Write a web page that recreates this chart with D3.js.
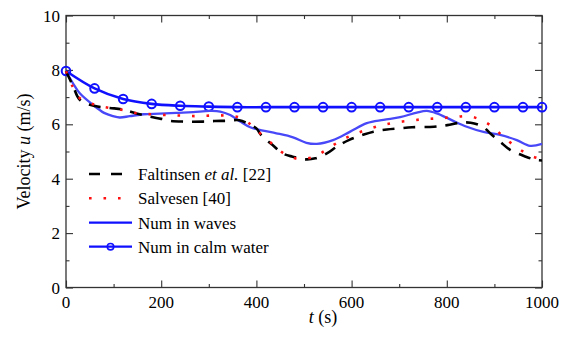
<!DOCTYPE html>
<html>
<head>
<meta charset="utf-8">
<script src="https://cdn.jsdelivr.net/npm/d3@7"></script>
</head>
<body style="margin:0">
<svg id="chart" width="574" height="337"></svg>
<script>
// Axis ticks
const xTicks = [0, 200, 400, 600, 800, 1000];
const yTicks = [0, 2, 4, 6, 8, 10];

// Faltinsen et al. [22]
const faltT = [0, 15, 29, 61, 92, 117, 148, 176, 200, 218, 246, 288, 312, 340, 364, 388, 400, 410, 434, 455, 476, 504, 524, 548, 569, 594, 622, 646, 674, 699, 727, 773, 801, 829, 850, 876, 891, 912, 933, 966, 987, 1000];
const faltU = [7.95, 7.4, 6.9, 6.67, 6.6, 6.55, 6.4, 6.28, 6.2, 6.13, 6.1, 6.1, 6.12, 6.13, 6.15, 5.97, 5.85, 5.6, 5.24, 4.93, 4.81, 4.71, 4.75, 4.93, 5.18, 5.42, 5.6, 5.73, 5.81, 5.85, 5.89, 5.91, 5.97, 6.06, 6.06, 5.91, 5.67, 5.36, 5.06, 4.81, 4.69, 4.67];

// Salvesen [40]
const salvT = [0, 14, 29, 59, 89, 119, 150, 180, 212, 242, 273, 304, 335, 366, 391, 413, 436, 460, 490, 521, 546, 573, 601, 630, 660, 689, 721, 752, 782, 814, 844, 872, 898, 920, 945, 973, 1000];
const salvU = [7.95, 7.38, 6.96, 6.73, 6.61, 6.53, 6.4, 6.37, 6.34, 6.32, 6.3, 6.32, 6.32, 6.24, 5.95, 5.58, 5.24, 4.9, 4.72, 4.81, 5.05, 5.36, 5.6, 5.79, 5.95, 6.06, 6.13, 6.19, 6.22, 6.26, 6.3, 6.16, 5.88, 5.52, 5.18, 4.87, 4.71];

// Num in waves
const wavesT = [0, 15, 29, 57, 80, 99, 113, 134, 163, 197, 232, 267, 302, 324, 345, 366, 387, 414, 442, 477, 505, 527, 561, 597, 632, 667, 702, 737, 758, 779, 807, 842, 877, 912, 947, 975, 1000];
const wavesU = [7.95, 7.5, 7.14, 6.71, 6.42, 6.3, 6.25, 6.3, 6.37, 6.39, 6.42, 6.45, 6.49, 6.47, 6.34, 6.1, 5.89, 5.77, 5.67, 5.52, 5.32, 5.28, 5.42, 5.73, 6.04, 6.16, 6.26, 6.43, 6.49, 6.4, 6.18, 5.91, 5.72, 5.61, 5.42, 5.21, 5.28];

// Num in calm water
const calmT = [0, 60, 120, 180, 240, 300, 360, 420, 480, 540, 600, 660, 720, 780, 840, 900, 960, 1000];
const calmU = [7.96, 7.32, 6.93, 6.75, 6.68, 6.65, 6.63, 6.63, 6.63, 6.63, 6.63, 6.63, 6.63, 6.63, 6.63, 6.63, 6.63, 6.63];

const FONT = "Liberation Serif";
const BASE = 22; // text is laid out at this size, then scaled to its final size
const svg = d3.select("#chart");
const margin = { left: 66, right: 32, top: 15.5, bottom: 49.5 };
const W = 574, H = 337;

const x = d3.scaleLinear().domain([0, 1000]).range([margin.left, W - margin.right]);
const y = d3.scaleLinear().domain([0, 10]).range([H - margin.bottom, margin.top]);

const axisColor = "#333";
const x0 = x.range()[0], x1 = x.range()[1];
const y0 = y.range()[0], y1 = y.range()[1];

// Text helper: parts are [string, italic?] pairs
function label(parent, px, py, size, anchor, parts, rotate = 0) {
  const g = parent.append("g")
    .attr("transform", `translate(${px},${py}) rotate(${rotate}) scale(${size / BASE})`);
  const t = g.append("text")
    .attr("x", 0).attr("y", 0)
    .attr("text-anchor", anchor)
    .attr("font-family", FONT).attr("font-size", BASE).attr("fill", "#000");
  parts.forEach(([s, it]) => {
    const sp = t.append("tspan").text(s);
    if (it) sp.attr("font-style", "italic");
  });
  return t;
}

// Inward ticks on all four sides (major and minor)
function tickSide(axisFn, scale, major, minor, transform) {
  const gMinor = svg.append("g").attr("transform", transform)
    .call(axisFn(scale).tickValues(minor).tickSize(-3.5).tickFormat(""));
  const gMajor = svg.append("g").attr("transform", transform)
    .call(axisFn(scale).tickValues(major).tickSize(-7).tickFormat(""));
  [gMinor, gMajor].forEach(g => {
    g.select(".domain").remove();
    g.selectAll("line").attr("stroke", axisColor).attr("stroke-width", 1.1);
  });
}
const xMinor = d3.range(100, 1000, 200);
const yMinor = d3.range(1, 10, 2);
tickSide(d3.axisBottom, x, xTicks, xMinor, `translate(0,${y0})`);
tickSide(d3.axisTop, x, xTicks, xMinor, `translate(0,${y1})`);
tickSide(d3.axisLeft, y, yTicks, yMinor, `translate(${x0},0)`);
tickSide(d3.axisRight, y, yTicks, yMinor, `translate(${x1},0)`);

// Frame
svg.append("rect")
  .attr("x", x0).attr("y", y1)
  .attr("width", x1 - x0).attr("height", y0 - y1)
  .attr("fill", "none").attr("stroke", axisColor).attr("stroke-width", 1.3);

// Tick labels
const tickLabels = svg.append("g");
xTicks.forEach(d => label(tickLabels, x(d), y0 + 20, 17, "middle", [[String(d), false]]));
yTicks.forEach(d => label(tickLabels, x0 - 6, y(d) + 6, 17, "end", [[String(d), false]]));

// Axis titles
label(svg, x(540), 323, 18, "middle", [["t", true], [" (s)", false]]);
label(svg, 30, (y0 + y1) / 2, 18, "middle", [["Velocity ", false], ["u", true], [" (m/s)", false]], -90);

const line = d3.line().x(d => x(d[0])).y(d => y(d[1])).curve(d3.curveCatmullRom.alpha(0.5));
const zip = (a, b) => a.map((v, i) => [v, b[i]]);

const plot = svg.append("g");

// Num in calm water
plot.append("path").datum(zip(calmT, calmU))
  .attr("d", line).attr("fill", "none")
  .attr("stroke", "#1010ff").attr("stroke-width", 2.6);
plot.append("g").selectAll("circle").data(zip(calmT, calmU)).join("circle")
  .attr("cx", d => x(d[0])).attr("cy", d => y(d[1])).attr("r", 4.3)
  .attr("fill", "none").attr("stroke", "#1010ff").attr("stroke-width", 2);

// Num in waves
plot.append("path").datum(zip(wavesT, wavesU))
  .attr("d", line).attr("fill", "none")
  .attr("stroke", "#4848f8").attr("stroke-width", 2.3);

// Faltinsen et al.
plot.append("path").datum(zip(faltT, faltU))
  .attr("d", line).attr("fill", "none")
  .attr("stroke", "#000").attr("stroke-width", 2.6)
  .attr("stroke-dasharray", "12 9");

// Salvesen
plot.append("path").datum(zip(salvT, salvU))
  .attr("d", line).attr("fill", "none")
  .attr("stroke", "#ff1010").attr("stroke-width", 2.6)
  .attr("stroke-dasharray", "2.6 11.9");

// Legend
const legend = svg.append("g");
const lx0 = 89, lx1 = 132, tx = 138;
const rows = [174, 198.3, 222.7, 246.7];

legend.append("line").attr("x1", lx0).attr("x2", lx1).attr("y1", rows[0]).attr("y2", rows[0])
  .attr("stroke", "#000").attr("stroke-width", 2.6).attr("stroke-dasharray", "11 11");
legend.append("line").attr("x1", lx0).attr("x2", lx1).attr("y1", rows[1]).attr("y2", rows[1])
  .attr("stroke", "#ff1010").attr("stroke-width", 2.6).attr("stroke-dasharray", "2.6 11.9");
legend.append("line").attr("x1", lx0).attr("x2", lx1).attr("y1", rows[2]).attr("y2", rows[2])
  .attr("stroke", "#1010ff").attr("stroke-width", 2.2);
legend.append("line").attr("x1", lx0).attr("x2", lx1).attr("y1", rows[3]).attr("y2", rows[3])
  .attr("stroke", "#1010ff").attr("stroke-width", 2.2);
legend.append("circle").attr("cx", (lx0 + lx1) / 2).attr("cy", rows[3]).attr("r", 3.2)
  .attr("fill", "none").attr("stroke", "#1010ff").attr("stroke-width", 1.6);

const legendLabels = [
  [["Faltinsen ", false], ["et al.", true], [" [22]", false]],
  [["Salvesen [40]", false]],
  [["Num in waves", false]],
  [["Num in calm water", false]]
];
legendLabels.forEach((parts, i) => label(legend, tx, rows[i] + 6, 17, "start", parts));
</script>
</body>
</html>
